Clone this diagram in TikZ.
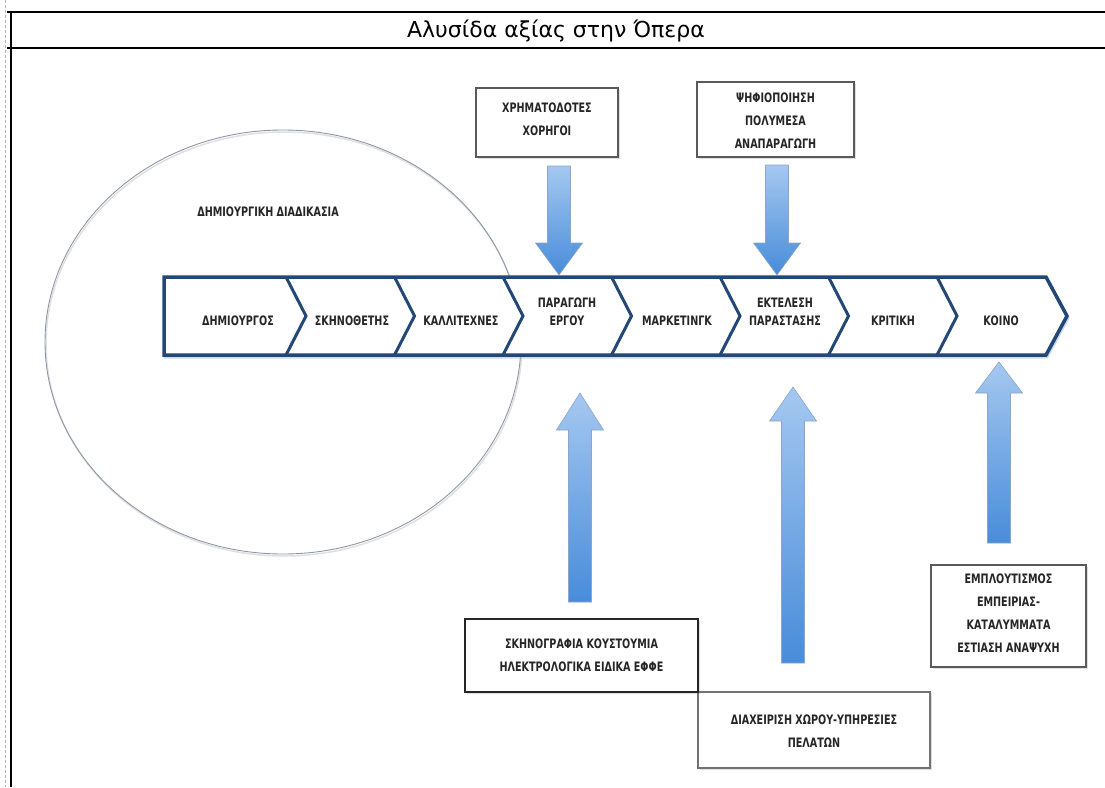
\documentclass[tikz,border=0pt]{standalone}
\usepackage{fontspec}
\setmainfont{DejaVu Sans}
\newfontfamily\labfont[FakeStretch=0.74]{DejaVu Sans}
\newfontfamily\titlefont{DejaVu Sans}
\usetikzlibrary{shadows}
\definecolor{navy}{RGB}{35,72,118}
\definecolor{glow}{RGB}{150,185,225}
\definecolor{ellcol}{RGB}{140,152,170}
\definecolor{arrlight}{RGB}{165,200,240}
\definecolor{arrdark}{RGB}{72,140,218}
\definecolor{arredge}{RGB}{140,165,200}
\definecolor{boxedge}{RGB}{90,90,90}
\tikzset{
  lab/.style={font=\labfont\bfseries\fontsize{13}{18}\selectfont, align=center, text=black!85},
  boxlab/.style={font=\labfont\bfseries\fontsize{13}{23}\selectfont, align=center, text=black!85},
  infobox/.style={draw=boxedge, line width=1.1pt, fill=white, rectangle, inner sep=0pt,
    drop shadow={shadow xshift=1.5pt, shadow yshift=-1.5pt, opacity=0.25}},
  blockarrow/.style={top color=arrlight, bottom color=arrdark, draw=arredge, line width=0.6pt}
}
\begin{document}
\begin{tikzpicture}[x=1pt,y=-1pt]
\useasboundingbox (0,0) rectangle (1105,787);
\fill[white] (0,0) rectangle (1105,787);

% frame
\draw[black!30, line width=1pt, dash pattern=on 3pt off 2pt] (5,0) -- (5,787);
\draw[line width=2pt] (7,12) -- (1105,12);
\draw[line width=2pt] (11,12) -- (11,787);
\draw[line width=1.2pt] (7,48) -- (1105,48);
\node[font=\titlefont\fontsize{22}{26}\selectfont] (title) at (556,31) {Αλυσίδα αξίας στην Όπερα};

% creative process ellipse
\draw[black!12, line width=1.5pt] (284,344) ellipse [x radius=238, y radius=212];
\draw[ellcol, line width=0.9pt] (283,342) ellipse [x radius=238, y radius=212];
\node[lab] (creative) at (268,212) {ΔΗΜΙΟΥΡΓΙΚΗ ΔΙΑΔΙΚΑΣΙΑ};

% chevron bar
\draw[glow, line width=3pt, opacity=0.5] (165,279) -- (1047,279) -- (1068,318) -- (1047,357) -- (165,357) -- cycle;
\fill[white] (164,277) -- (1046,277) -- (1067,316) -- (1046,355) -- (164,355) -- cycle;
\draw[navy, line width=3.5pt, line join=miter] (164,277) -- (1046,277) -- (1067,316) -- (1046,355) -- (164,355) -- cycle;
\foreach \b in {286,394.5,503,611.5,720,828.5,937}
  \draw[navy, line width=3pt, line join=miter] (\b,277) -- (\b+20,316) -- (\b,355);

\node[lab] (s1) at (238,321) {ΔΗΜΙΟΥΡΓΟΣ};
\node[lab] (s2) at (352,321) {ΣΚΗΝΟΘΕΤΗΣ};
\node[lab] (s3) at (461,321) {ΚΑΛΛΙΤΕΧΝΕΣ};
\node[lab] (s4) at (567,312) {ΠΑΡΑΓΩΓΗ\\ΕΡΓΟΥ};
\node[lab] (s5) at (677,321) {ΜΑΡΚΕΤΙΝΓΚ};
\node[lab] (s6) at (785,312) {ΕΚΤΕΛΕΣΗ\\ΠΑΡΑΣΤΑΣΗΣ};
\node[lab] (s7) at (893,321) {ΚΡΙΤΙΚΗ};
\node[lab] (s8) at (1001,321) {ΚΟΙΝΟ};

% boxes
\node[infobox, minimum width=142pt, minimum height=69pt] (fund) at (547,122.5) {};
\node[boxlab] (fundt) at (547,119) {ΧΡΗΜΑΤΟΔΟΤΕΣ\\ΧΟΡΗΓΟΙ};
\node[infobox, minimum width=157pt, minimum height=75pt] (digi) at (775.5,119.5) {};
\node[boxlab] (digit) at (775.5,121) {ΨΗΦΙΟΠΟΙΗΣΗ\\ΠΟΛΥΜΕΣΑ\\ΑΝΑΠΑΡΑΓΩΓΗ};
\node[infobox, minimum width=232pt, minimum height=76pt, draw=black!55] (mgmt) at (814,730) {};
\node[boxlab] (mgmtt) at (814,731.5) {ΔΙΑΧΕΙΡΙΣΗ ΧΩΡΟΥ-ΥΠΗΡΕΣΙΕΣ\\ΠΕΛΑΤΩΝ};
\node[infobox, minimum width=233pt, minimum height=73pt, draw=black!85] (scen) at (581.5,655.5) {};
\node[boxlab] (scent) at (581.5,655) {ΣΚΗΝΟΓΡΑΦΙΑ ΚΟΥΣΤΟΥΜΙΑ\\ΗΛΕΚΤΡΟΛΟΓΙΚΑ ΕΙΔΙΚΑ ΕΦΦΕ};
\node[infobox, minimum width=155pt, minimum height=102pt, line width=1.5pt] (enrich) at (1008.5,616) {};
\node[boxlab] (enricht) at (1008.5,613) {ΕΜΠΛΟΥΤΙΣΜΟΣ\\ΕΜΠΕΙΡΙΑΣ-\\ΚΑΤΑΛΥΜΜΑΤΑ\\ΕΣΤΙΑΣΗ ΑΝΑΨΥΧΗ};

% block arrows (down)
\foreach \x/\t in {559/166, 777/165}
  \path[blockarrow] (\x-11.5,\t) -- (\x+11.5,\t) -- (\x+11.5,243) -- (\x+23.5,243) -- (\x,275)
    -- (\x-23.5,243) -- (\x-11.5,243) -- cycle;
% block arrows (up)
\foreach \x/\tip/\h/\bt in {580/393/430/602, 793/387/421/663, 999/362/393/543}
  \path[blockarrow] (\x-11.5,\bt) -- (\x+11.5,\bt) -- (\x+11.5,\h) -- (\x+23.5,\h) -- (\x,\tip)
    -- (\x-23.5,\h) -- (\x-11.5,\h) -- cycle;
\end{tikzpicture}
\end{document}
